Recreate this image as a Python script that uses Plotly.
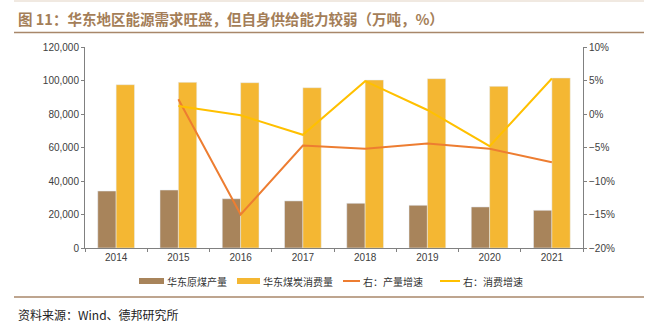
import plotly.graph_objects as go

years = ["2014", "2015", "2016", "2017", "2018", "2019", "2020", "2021"]
production = [34000, 34600, 29400, 28100, 26700, 25500, 24500, 22500]
consumption = [97500, 98900, 98700, 95700, 100300, 101100, 96500, 101500]
prod_growth = [None, 2.2, -15.0, -4.7, -5.2, -4.4, -5.2, -7.2]
cons_growth = [None, 1.2, -0.2, -3.1, 4.9, 0.6, -4.8, 5.3]

names = ["华东原煤产量", "华东煤炭消费量", "右：产量增速", "右：消费增速"]
c_brown = "#A8845B"
c_ybar = "#F4B733"
c_orange = "#ED7D31"
c_yline = "#FFC000"

W, H = 648, 335
L, R, T, B = 85, 583, 47, 248


def px(x):
    return (x - L) / (R - L)


def py(y):
    return (B - y) / (B - T)


fig = go.Figure()
fig.add_trace(go.Bar(x=years, y=production, name=names[0], marker_color=c_brown,
                     showlegend=False))
fig.add_trace(go.Bar(x=years, y=consumption, name=names[1], marker_color=c_ybar,
                     showlegend=False))
fig.add_trace(go.Scatter(x=years, y=prod_growth, name=names[2], mode="lines",
                         line=dict(color=c_orange, width=2), yaxis="y2",
                         showlegend=False))
fig.add_trace(go.Scatter(x=years, y=cons_growth, name=names[3], mode="lines",
                         line=dict(color=c_yline, width=2), yaxis="y2",
                         showlegend=False))

tickfont = dict(family="Liberation Sans, Arial, sans-serif", size=10, color="#404040")
axcol = "#808080"

shapes = []
annotations = []

# Title
annotations.append(dict(xref="paper", yref="paper", x=px(16), y=py(18),
                        xanchor="left", yanchor="middle", showarrow=False,
                        text="<b>图 11：华东地区能源需求旺盛，但自身供给能力较弱（万吨，%）</b>",
                        font=dict(family="Noto Sans CJK SC", size=14.5, color="#A47E58")))
# lines
shapes.append(dict(type="line", xref="paper", yref="paper", x0=px(14), x1=px(644),
                   y0=py(1), y1=py(1), line=dict(color="#E2D3C3", width=1)))
shapes.append(dict(type="line", xref="paper", yref="paper", x0=px(14), x1=px(644),
                   y0=py(32.5), y1=py(32.5), line=dict(color="#A8876A", width=1.5)))
shapes.append(dict(type="line", xref="paper", yref="paper", x0=px(14), x1=px(644),
                   y0=py(297), y1=py(297), line=dict(color="#A8876A", width=1.5)))
# Source
annotations.append(dict(xref="paper", yref="paper", x=px(16), y=py(314),
                        xanchor="left", yanchor="middle", showarrow=False,
                        text="资料来源：Wind、德邦研究所",
                        font=dict(family="Noto Sans CJK SC", size=12, color="#222222")))

# Custom legend
leg_y = 281
legend_items = [
    ("bar", c_brown, 139, 164, names[0]),
    ("bar", c_ybar, 237, 260, names[1]),
    ("line", c_orange, 343, 360, names[2]),
    ("line", c_yline, 440, 460, names[3]),
]
for kind, col, x0, x1, label in legend_items:
    if kind == "bar":
        shapes.append(dict(type="rect", xref="paper", yref="paper", x0=px(x0), x1=px(x1),
                           y0=py(leg_y + 3), y1=py(leg_y - 3), fillcolor=col,
                           line=dict(width=0)))
    else:
        shapes.append(dict(type="line", xref="paper", yref="paper", x0=px(x0), x1=px(x1),
                           y0=py(leg_y), y1=py(leg_y), line=dict(color=col, width=2)))
    annotations.append(dict(xref="paper", yref="paper", x=px(x1 + 1), y=py(leg_y),
                            xanchor="left", yanchor="middle", showarrow=False,
                            text=label,
                            font=dict(family="Noto Sans CJK SC", size=10, color="#333333")))

fig.update_layout(
    width=W, height=H,
    margin=dict(l=L, r=W - R, t=T, b=H - B, pad=0),
    paper_bgcolor="white", plot_bgcolor="white",
    barmode="group", bargap=0.41, bargroupgap=0,
    showlegend=False,
    xaxis=dict(type="category", showline=True, linecolor=axcol, linewidth=1,
               ticks="outside", tickson="boundaries", ticklen=3, tickcolor=axcol,
               tickfont=tickfont, showgrid=False, zeroline=False),
    yaxis=dict(range=[0, 120000], dtick=20000, tickformat=",", showline=True,
               linecolor=axcol, linewidth=1, ticks="outside", ticklen=3,
               tickcolor=axcol, tickfont=tickfont, showgrid=False, zeroline=False),
    yaxis2=dict(range=[-20, 10], dtick=5, ticksuffix="%", overlaying="y", side="right",
                showline=True, linecolor=axcol, linewidth=1, ticks="outside", ticklen=3,
                tickcolor=axcol, tickfont=tickfont, showgrid=False, zeroline=False),
    shapes=shapes,
    annotations=annotations,
)

fig.write_html("out.html")
